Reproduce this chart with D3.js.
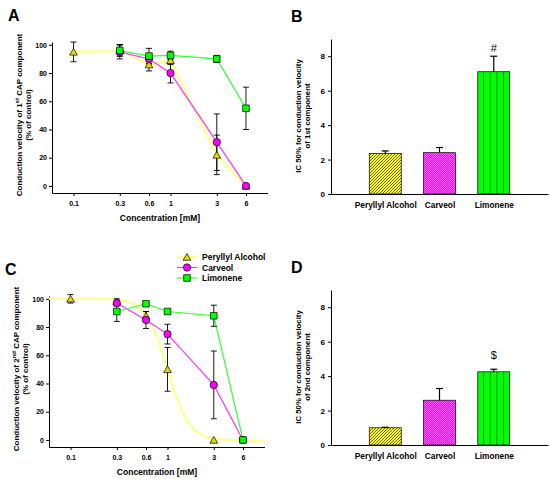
<!DOCTYPE html>
<html>
<head>
<meta charset="utf-8">
<script src="https://cdn.jsdelivr.net/npm/d3@7"></script>
<style>
  body { margin: 0; background: #fff; }
  svg { font-family: 'Liberation Sans', Arial, sans-serif; font-weight: bold; }
</style>
</head>
<body>
<div id="app"></div>
<script>
'use strict'
// concentrations (mM)
const concA = [0.1, 0.3, 0.6, 1, 3, 6]
const concB = [0.3, 0.6, 1, 3, 6]
const xTicks = [0.1, 0.3, 0.6, 1, 3, 6]
const yTicks = [0, 20, 40, 60, 80, 100]

// panel A: 1st CAP component
const perA = [95, 96, 86, 89, 22, 0]
const perAErr = [7, 4, 4.5, 3, 14, 0]
const carA = [95, 90, 80, 31, 0]
const carAErr = [5, 3, 7, 20, 0]
const limA = [96, 92, 92.5, 90, 55]
const limAErr = [4, 5.5, 3, 2.5, 15]

// panel C: 2nd CAP component
const concPerC = [0.1, 0.3, 0.6, 1, 3]
const perC = [100, 98, 88, 50, 0]
const perCErr = [3, 2, 3, 15.5, 0]
const carC = [97, 85, 75, 39, 0]
const carCErr = [2, 6, 7, 24, 0]
const limC = [91, 96.5, 91, 88, 0]
const limCErr = [7, 1, 1.5, 7.5, 0]
// fitted sigmoid for Peryllyl Alcohol
const perFitX = [0.06, 0.2, 0.3, 0.45, 0.6, 0.75, 0.9, 1, 1.2, 1.5, 2, 3, 5, 10]
const perFitY = [100, 100, 99.3, 96, 88, 76, 60, 50, 33, 17, 6, 1, -0.5, -1]

// panels B and D: IC50
const compounds = ['Peryllyl Alcohol', 'Carveol', 'Limonene']
const ic50B = [2.35, 2.4, 7.1]
const ic50BErr = [0.15, 0.3, 0.9]
const ic50D = [1.0, 2.6, 4.25]
const ic50DErr = [0.03, 0.68, 0.15]
const barTicks = [0, 2, 4, 6, 8]

const svg = d3.select('#app').append('svg')
  .attr('width', 550)
  .attr('height', 481)

// patterns
const defs = svg.append('defs')
const pYel = defs.append('pattern').attr('id', 'pYel')
  .attr('patternUnits', 'userSpaceOnUse').attr('width', 3).attr('height', 3)
pYel.append('rect').attr('width', 3).attr('height', 3).attr('fill', '#ffff00')
pYel.append('path').attr('d', 'M-1,1 L1,-1 M0,3 L3,0 M2,4 L4,2')
  .attr('stroke', '#333').attr('stroke-width', 0.8)
const pMag = defs.append('pattern').attr('id', 'pMag')
  .attr('patternUnits', 'userSpaceOnUse').attr('width', 2).attr('height', 2)
pMag.append('rect').attr('width', 2).attr('height', 2).attr('fill', '#ff00ff')
pMag.append('rect').attr('width', 1).attr('height', 1).attr('fill', '#ff66ff')
pMag.append('rect').attr('x', 1).attr('y', 1).attr('width', 1).attr('height', 1).attr('fill', '#ff66ff')
const pGrn = defs.append('pattern').attr('id', 'pGrn')
  .attr('patternUnits', 'userSpaceOnUse').attr('width', 6.7).attr('height', 8)
  .attr('x', 476.3)
pGrn.append('rect').attr('width', 6.7).attr('height', 8).attr('fill', '#00ff00')
pGrn.append('line').attr('x1', 0.5).attr('x2', 0.5).attr('y1', 0).attr('y2', 8)
  .attr('stroke', '#1a8c1a').attr('stroke-width', 1)

const styles = [
  { name: 'Peryllyl Alcohol', line: '#ffff99', lw: 2.5, fill: '#e6dc00', shape: d3.symbolTriangle, size: 26 },
  { name: 'Carveol', line: '#ff33ff', lw: 1.2, fill: '#ff00ff', shape: d3.symbolCircle, size: 42 },
  { name: 'Limonene', line: '#33ff33', lw: 1.2, fill: '#00ff00', shape: d3.symbolSquare, size: 44 }
]
const barFills = ['url(#pYel)', 'url(#pMag)', 'url(#pGrn)']

function label(g, x, y, txt, size, anchor) {
  return g.append('text').attr('x', x).attr('y', y)
    .attr('font-size', size).attr('text-anchor', anchor || 'start').text(txt)
}

function styleAxis(a) {
  a.selectAll('path, line').attr('stroke', '#000').attr('stroke-width', 1)
  a.selectAll('text').attr('font-family', 'Liberation Sans, Arial, sans-serif')
    .attr('font-weight', 'bold').attr('font-size', 7).attr('fill', '#000')
}

function linePanel(o) {
  const g = svg.append('g')
  const x = d3.scaleLog().domain([0.06, 10]).range([o.x0, o.x0 + 215.5])
  const y = d3.scaleLinear().domain([-5, 102]).range([o.y0, o.y0 - 151])

  const ax = g.append('g').attr('transform', `translate(0,${o.y0})`)
    .call(d3.axisBottom(x).tickValues(xTicks).tickFormat(d3.format('')).tickSize(3).tickSizeOuter(0).tickPadding(5))
  styleAxis(ax)
  const ay = g.append('g').attr('transform', `translate(${o.x0},0)`)
    .call(d3.axisLeft(y).tickValues(yTicks).tickSize(3).tickSizeOuter(0).tickPadding(2))
  styleAxis(ay)

  label(g, o.x0 + 108, o.y0 + 28, 'Concentration [mM]', 8.5, 'middle')
  const yt = g.append('g').attr('transform', `translate(${o.x0 - 30},${o.y0 - 78}) rotate(-90)`)
  const t1 = yt.append('text').attr('text-anchor', 'middle').attr('font-size', 8)
  t1.append('tspan').text('Conduction velocity of ' + o.num)
  t1.append('tspan').attr('dy', -3).attr('font-size', 6).text(o.sup)
  t1.append('tspan').attr('dy', 3).text(' CAP component')
  yt.append('text').attr('text-anchor', 'middle').attr('y', 9).attr('font-size', 8).text('(% of control)')
  label(g, o.x0 - 44, o.y0 - 172, o.letter, 16)

  if (o.fit) {
    g.append('path')
      .datum(o.fit.x.map((d, i) => [d, o.fit.y[i]]))
      .attr('fill', 'none').attr('stroke', styles[0].line).attr('stroke-width', 2.5)
      .attr('d', d3.line().x(d => x(d[0])).y(d => y(d[1])).curve(d3.curveMonotoneX))
  }

  o.series.forEach((s, k) => {
    const st = styles[k]
    const pts = s.x.map((d, i) => ({ x: d, y: s.y[i], e: s.e[i] }))
    if (!(o.fit && k === 0)) {
      g.append('path').datum(pts)
        .attr('fill', 'none').attr('stroke', st.line).attr('stroke-width', st.lw)
        .attr('d', d3.line().x(d => x(d.x)).y(d => y(d.y)))
    }
  })
  o.series.forEach((s, k) => {
    const pts = s.x.map((d, i) => ({ x: d, y: s.y[i], e: s.e[i] })).filter(d => d.e > 0)
    const eb = g.append('g').attr('stroke', '#000').attr('stroke-width', 0.9)
    eb.selectAll('line.v').data(pts).enter().append('line')
      .attr('x1', d => x(d.x)).attr('x2', d => x(d.x))
      .attr('y1', d => y(d.y - d.e)).attr('y2', d => y(d.y + d.e))
    eb.selectAll('line.t').data(pts).enter().append('line')
      .attr('x1', d => x(d.x) - 3).attr('x2', d => x(d.x) + 3)
      .attr('y1', d => y(d.y + d.e)).attr('y2', d => y(d.y + d.e))
    eb.selectAll('line.b').data(pts).enter().append('line')
      .attr('x1', d => x(d.x) - 3).attr('x2', d => x(d.x) + 3)
      .attr('y1', d => y(d.y - d.e)).attr('y2', d => y(d.y - d.e))
  })
  o.series.forEach((s, k) => {
    const st = styles[k]
    g.selectAll(null).data(s.x.map((d, i) => ({ x: d, y: s.y[i] }))).enter().append('path')
      .attr('d', d3.symbol().type(st.shape).size(st.size))
      .attr('transform', d => `translate(${x(d.x)},${y(d.y) + (k === 0 ? 1 : 0)})`)
      .attr('fill', st.fill).attr('stroke', '#000').attr('stroke-width', 0.7)
  })

  if (o.legend) {
    styles.forEach((st, k) => {
      const ly = o.legend.y + k * 10.5
      g.append('line').attr('x1', o.legend.x).attr('x2', o.legend.x + 20)
        .attr('y1', ly).attr('y2', ly).attr('stroke', st.line).attr('stroke-width', st.lw)
      g.append('path').attr('d', d3.symbol().type(st.shape).size(st.size))
        .attr('transform', `translate(${o.legend.x + 10},${ly + (k === 0 ? 1 : 0)})`)
        .attr('fill', st.fill).attr('stroke', '#000').attr('stroke-width', 0.7)
      label(g, o.legend.x + 25, ly + 3, st.name, 8.5)
    })
  }
}

function barPanel(o) {
  const g = svg.append('g')
  const x = d3.scalePoint().domain(compounds).range([o.x0, o.x0 + 217]).padding(1)
  const y = d3.scaleLinear().domain([0, 9]).range([o.y0, o.y0 - 155])
  const bw = 32

  g.selectAll('rect.bar').data(compounds).enter().append('rect')
    .attr('x', d => x(d) - bw / 2).attr('width', bw)
    .attr('y', (d, i) => y(o.vals[i])).attr('height', (d, i) => o.y0 - y(o.vals[i]))
    .attr('fill', (d, i) => barFills[i]).attr('stroke', '#000').attr('stroke-width', 0.7)

  const eb = g.append('g').attr('stroke', '#000').attr('stroke-width', 1.2)
  eb.selectAll('line.v').data(compounds).enter().append('line')
    .attr('x1', d => x(d)).attr('x2', d => x(d))
    .attr('y1', (d, i) => y(o.vals[i])).attr('y2', (d, i) => y(o.vals[i] + o.errs[i]))
  eb.selectAll('line.t').data(compounds).enter().append('line')
    .attr('x1', d => x(d) - 3.5).attr('x2', d => x(d) + 3.5)
    .attr('y1', (d, i) => y(o.vals[i] + o.errs[i])).attr('y2', (d, i) => y(o.vals[i] + o.errs[i]))

  const ax = g.append('g').attr('transform', `translate(0,${o.y0})`)
    .call(d3.axisBottom(x).tickSize(0).tickSizeOuter(0).tickPadding(8))
  styleAxis(ax)
  ax.selectAll('text').attr('font-size', 8.3)
  const ay = g.append('g').attr('transform', `translate(${o.x0},0)`)
    .call(d3.axisLeft(y).tickValues(barTicks).tickSize(3).tickSizeOuter(0).tickPadding(3))
  styleAxis(ay)
  ay.selectAll('text').attr('font-size', 8)

  const yt = g.append('g').attr('transform', `translate(${o.x0 - 30},${o.y0 - 78}) rotate(-90)`)
  yt.append('text').attr('text-anchor', 'middle').attr('font-size', 7.8).text('IC 50% for conduction velocity')
  yt.append('text').attr('text-anchor', 'middle').attr('y', 9).attr('font-size', 7.8).text(o.sub)
  label(g, o.x0 - 40, o.y0 - 172, o.letter, 16)
  label(g, x(compounds[2]), y(o.markAt), o.mark, 11, 'middle').attr('font-weight', 'normal')
}

linePanel({
  x0: 52, y0: 193, letter: 'A', num: '1', sup: 'st',
  series: [
    { x: concA, y: perA, e: perAErr },
    { x: concB, y: carA, e: carAErr },
    { x: concB, y: limA, e: limAErr }
  ]
})
linePanel({
  x0: 49, y0: 447, letter: 'C', num: '2', sup: 'nd',
  fit: { x: perFitX, y: perFitY },
  legend: { x: 177, y: 257 },
  series: [
    { x: concPerC, y: perC, e: perCErr },
    { x: concB, y: carC, e: carCErr },
    { x: concB, y: limC, e: limCErr }
  ]
})
barPanel({ x0: 331, y0: 194, letter: 'B', vals: ic50B, errs: ic50BErr, sub: 'of 1st component', mark: '#', markAt: 8.25 })
barPanel({ x0: 331, y0: 445, letter: 'D', vals: ic50D, errs: ic50DErr, sub: 'of 2nd component', mark: '$', markAt: 5.0 })
</script>
</body>
</html>
